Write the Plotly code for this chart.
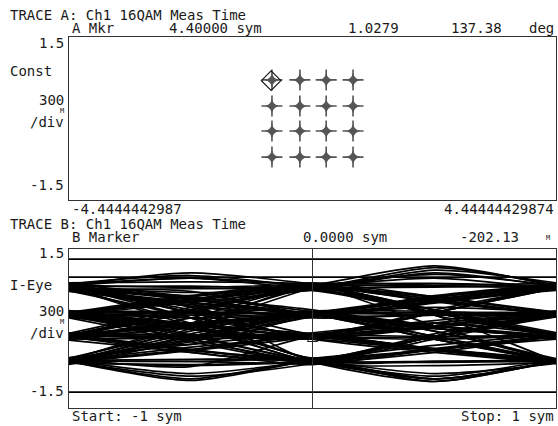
import plotly.graph_objects as go

# ---------------- data ----------------
# Trace A: 16QAM constellation (I, Q) symbol clusters
CONST_I = [-0.74, -0.23, 0.25, 0.74,
           -0.74, -0.23, 0.25, 0.74,
           -0.74, -0.23, 0.25, 0.74,
           -0.74, -0.23, 0.25, 0.74]
CONST_Q = [0.71, 0.71, 0.71, 0.71,
           0.23, 0.23, 0.23, 0.23,
           -0.23, -0.23, -0.23, -0.23,
           -0.71, -0.71, -0.71, -0.71]
MKR_A_I = [-0.755]
MKR_A_Q = [0.696]

# Trace B: I-eye trajectories sampled at these symbol times
EYE_T = [-1.0, -0.5, 0.0, 0.5, 1.0]
EYE_TRACES = [
    [0.80, 0.95, 0.78, 1.15, 0.82],
    [0.76, 0.55, 0.30, 0.55, 0.76],
    [0.82, 0.30, -0.15, 0.10, 0.28],
    [0.78, 0.10, -0.60, -0.20, 0.25],
    [0.74, 0.50, 0.25, 0.00, -0.16],
    [0.80, 0.62, 0.80, 0.35, -0.12],
    [0.77, 0.05, -0.64, -1.00, -0.60],
    [0.84, 1.00, 0.76, 0.25, -0.62],
    [0.26, 0.55, 0.79, 0.55, 0.26],
    [0.28, 0.10, -0.13, 0.30, 0.80],
    [0.24, -0.20, -0.62, -0.15, 0.28],
    [0.30, 0.28, 0.25, -0.20, -0.60],
    [0.27, 0.52, 0.78, 0.95, 0.74],
    [0.22, 0.05, -0.16, -0.40, -0.65],
    [0.31, 0.20, 0.28, 0.55, 0.82],
    [0.25, 0.60, 0.80, 0.25, -0.14],
    [-0.12, 0.35, 0.78, 0.50, 0.27],
    [-0.16, -0.15, -0.12, 0.30, 0.76],
    [-0.10, -0.40, -0.64, -0.45, -0.15],
    [-0.14, 0.08, 0.26, 0.05, -0.14],
    [-0.18, 0.10, 0.30, 0.60, 0.79],
    [-0.13, -0.42, -0.60, -0.95, -0.63],
    [-0.15, 0.30, 0.77, 0.05, -0.62],
    [-0.11, -0.20, -0.16, -0.40, -0.60],
    [-0.62, -0.95, -0.63, -1.00, -0.60],
    [-0.60, -0.35, -0.14, 0.05, 0.27],
    [-0.66, -0.15, 0.28, 0.55, 0.80],
    [-0.58, 0.05, 0.79, 0.30, -0.15],
    [-0.64, -0.40, -0.12, -0.40, -0.64],
    [-0.60, -0.10, 0.25, -0.20, -0.62],
    [-0.63, -0.70, -0.60, -0.15, 0.26],
    [-0.59, -0.20, 0.27, 0.25, 0.27],
    [0.79, 0.80, 0.75, 0.80, 0.78],
    [0.72, 0.42, 0.26, -0.20, -0.64],
    [0.83, 0.40, -0.12, -0.40, -0.62],
    [0.28, -0.12, -0.60, -0.40, -0.13],
    [0.23, 0.25, 0.29, 0.05, -0.17],
    [-0.16, -0.45, -0.61, -0.10, 0.30],
    [-0.12, 0.10, 0.25, 0.50, 0.77],
    [-0.64, -0.42, -0.15, 0.30, 0.78],
    [-0.61, -0.62, -0.65, -0.38, -0.12],
    [0.80, 0.55, 0.24, 0.25, 0.29],
    [0.27, 0.60, 0.82, 1.18, 0.80],
    [-0.62, -0.98, -0.60, -0.40, -0.15],
    [-0.14, 0.30, 0.80, 0.85, 0.78],
    [0.26, 0.20, -0.14, -0.20, -0.12],
    [0.78, 0.35, -0.16, 0.30, 0.76],
    [-0.60, -0.25, 0.24, 0.00, -0.15],
    [0.75, 0.70, 0.28, 0.62, 0.84],
    [0.29, 0.02, 0.26, -0.05, -0.62],
    [-0.17, -0.30, 0.24, 0.40, 0.30],
    [-0.57, -0.72, -0.14, 0.10, -0.13],
    [0.81, 0.48, -0.62, -0.70, -0.64],
    [-0.63, 0.00, 0.76, 1.02, 0.81],
    [0.84, 0.60, 0.32, 0.05, -0.18],
    [0.70, 0.45, 0.22, 0.48, 0.74],
    [0.86, 0.88, 0.84, 0.58, 0.30],
    [0.73, 0.75, 0.72, 0.30, -0.10],
    [0.33, 0.32, 0.30, 0.58, 0.85],
    [0.21, -0.02, -0.20, 0.02, 0.22],
    [0.34, 0.08, -0.10, -0.38, -0.58],
    [0.20, -0.25, -0.66, -0.62, -0.60],
    [0.30, 0.62, 0.86, 0.60, 0.31],
    [-0.08, -0.12, -0.10, 0.10, 0.33],
    [-0.20, -0.18, -0.20, -0.42, -0.66],
    [-0.09, 0.40, 0.84, 0.82, 0.85],
    [-0.22, -0.45, -0.68, -0.40, -0.20],
    [-0.66, -0.68, -0.66, -0.90, -0.58],
    [-0.55, -0.30, -0.08, 0.15, 0.33],
    [-0.68, -0.22, 0.22, 0.50, 0.74],
    [-0.56, -0.05, 0.30, 0.05, -0.20],
    [0.86, 0.30, -0.20, -0.45, -0.66],
    [0.71, 0.20, -0.56, -0.15, 0.22],
    [0.81, 1.05, 0.84, 0.55, 0.24],
    [0.24, 0.50, 0.73, 1.10, 0.86],
    [-0.10, -0.12, -0.20, 0.05, 0.31],
    [-0.62, -0.90, -0.66, -0.15, 0.29],
    [0.28, 0.05, -0.57, -0.85, -0.66],
    [0.77, 0.58, 0.35, -0.05, -0.57],
    [-0.14, 0.35, 0.72, 0.35, -0.08],
    [0.25, 0.28, 0.22, 0.52, 0.72],
    [-0.60, -0.58, -0.56, -0.32, -0.10],
    [0.79, 0.42, 0.20, 0.25, 0.23],
    [-0.17, 0.02, 0.33, 0.32, 0.24],
    [0.82, 0.78, 0.80, 0.52, 0.26],
    [0.75, 0.48, 0.29, 0.30, 0.31],
    [0.80, 0.20, -0.58, -0.62, -0.60],
    [0.78, 0.68, 0.75, 1.05, 0.79],
    [0.30, 0.55, 0.76, 0.78, 0.82],
    [0.27, 0.00, -0.17, -0.16, -0.15],
    [0.25, -0.15, -0.63, -0.95, -0.61],
    [0.32, 0.30, 0.26, 0.00, -0.14],
    [-0.15, -0.40, -0.62, -0.64, -0.62],
    [-0.12, 0.05, 0.28, 0.30, 0.29],
    [-0.18, 0.20, 0.79, 0.30, -0.14],
    [-0.13, -0.15, -0.14, -0.38, -0.61],
    [-0.61, -0.40, -0.14, -0.15, -0.13],
    [-0.63, -0.16, 0.27, 0.30, 0.26],
    [-0.59, 0.10, 0.78, 0.80, 0.77],
    [-0.62, -0.62, -0.60, -0.95, -0.61],
    [0.79, 0.30, -0.13, 0.35, 0.79],
    [0.27, -0.20, -0.60, -0.15, 0.27],
    [-0.14, 0.35, 0.78, 0.35, -0.14],
    [-0.61, -0.15, 0.27, -0.15, -0.61],
    [0.80, 0.55, 0.27, -0.15, -0.62],
    [-0.62, -0.15, 0.28, 0.55, 0.79],
    [0.28, 0.55, 0.79, 0.30, -0.14],
    [-0.14, -0.40, -0.61, -0.15, 0.27],
    [0.83, 0.95, 0.81, 0.60, 0.27],
    [0.26, 0.06, -0.15, 0.05, 0.26],
    [-0.15, 0.06, 0.26, 0.60, 0.80],
    [-0.60, -0.85, -0.62, -0.40, -0.14],
    [0.97, 0.97, 0.97, 0.97, 0.97],
    [1.31, 1.31, 1.31, 1.31, 1.31],
    [-1.20, -1.20, -1.20, -1.20, -1.20],
]
MKR_B_T = [0.0]
MKR_B_I = [-0.202]

# ---------------- figure ----------------
W, H = 558, 426
BOX_L, BOX_R = 69, 556
BOX_TOP, BOX_BOT = 37, 408
L, R, T, B = BOX_L, W - BOX_R, BOX_TOP, H - BOX_BOT
PW, PH = BOX_R - BOX_L, BOX_BOT - BOX_TOP

def px(x):
    return (x - BOX_L) / PW

def py(y):
    return (BOX_BOT - y) / PH

FONT = "DejaVu Sans Mono"
INK = "#1a1a1a"
BOX = "#333333"

fig = go.Figure()

# constellation
fig.add_trace(go.Scatter(x=CONST_I, y=CONST_Q, mode="markers", xaxis="x", yaxis="y",
                         marker=dict(symbol="cross-thin", size=15, line=dict(color="#555555", width=1.6)),
                         hoverinfo="skip"))
fig.add_trace(go.Scatter(x=CONST_I, y=CONST_Q, mode="markers", xaxis="x", yaxis="y",
                         marker=dict(symbol="star-diamond", size=10, color="#555555", line=dict(width=0)),
                         hoverinfo="skip"))
fig.add_trace(go.Scatter(x=MKR_A_I, y=MKR_A_Q, mode="markers", xaxis="x", yaxis="y",
                         marker=dict(symbol="diamond-open", size=15, color=INK, line=dict(color=INK, width=1.2)),
                         hoverinfo="skip"))

# eye diagram
for tr in EYE_TRACES:
    fig.add_trace(go.Scatter(x=EYE_T, y=tr, mode="lines", xaxis="x2", yaxis="y2",
                             line=dict(color="#000000", width=1.7, shape="spline", smoothing=0.7),
                             hoverinfo="skip"))
fig.add_trace(go.Scatter(x=MKR_B_T, y=MKR_B_I, mode="markers", xaxis="x2", yaxis="y2",
                         marker=dict(symbol="triangle-up-open", size=9, color=INK, line=dict(color="#777777", width=1)),
                         hoverinfo="skip"))

top_lo, top_hi = py(200), 1.0
bot_lo, bot_hi = 0.0, py(249)

axcommon = dict(showgrid=False, zeroline=False, showticklabels=False, ticks="",
                showline=True, linecolor=BOX, linewidth=1, mirror=True, fixedrange=True)

fig.update_layout(
    width=W, height=H,
    margin=dict(l=L, r=R, t=T, b=B, pad=0),
    paper_bgcolor="white", plot_bgcolor="white",
    showlegend=False,
    xaxis=dict(domain=[0, 1], range=[-4.4444442987, 4.44444429874], anchor="y", **axcommon),
    yaxis=dict(domain=[top_lo, top_hi], range=[-1.5, 1.5], anchor="x", **axcommon),
    xaxis2=dict(domain=[0, 1], range=[-1, 1], anchor="y2", **axcommon),
    yaxis2=dict(domain=[bot_lo, bot_hi], range=[-1.5, 1.5], anchor="x2", **axcommon),
    shapes=[dict(type="line", xref="x2", yref="paper", x0=0, x1=0, y0=bot_lo, y1=bot_hi,
                 line=dict(color=BOX, width=1))],
)

def txt(s, x, y, anchor="left", size=14):
    fig.add_annotation(text=s, x=px(x), y=py(y), xref="paper", yref="paper",
                       xanchor=anchor, yanchor="middle", showarrow=False,
                       font=dict(family=FONT, size=size, color=INK))

# Trace A header
txt("TRACE A: Ch1 16QAM Meas Time", 8, 15)
txt("A Mkr", 70, 28)
txt("4.40000 sym", 264, 28, "right")
txt("1.0279", 401, 28, "right")
txt("137.38", 504, 28, "right")
txt("deg", 556, 28, "right")
txt("1.5", 66, 43, "right")
txt("Const", 8, 71)
txt("300", 66, 100, "right")
txt("M", 66, 111, "right", 7)
txt("/div", 66, 122, "right")
txt("-1.5", 66, 185, "right")
txt("-4.4444442987", 70, 209)
txt("4.44444429874", 556, 209, "right")

# Trace B header
txt("TRACE B: Ch1 16QAM Meas Time", 8, 224)
txt("B Marker", 70, 237)
txt("0.0000 sym", 389, 237, "right")
txt("-202.13", 521, 237, "right")
txt("M", 552, 238, "right", 7)
txt("1.5", 66, 253, "right")
txt("I-Eye", 8, 285)
txt("300", 66, 311, "right")
txt("M", 66, 322, "right", 7)
txt("/div", 66, 333, "right")
txt("-1.5", 66, 391, "right")
txt("Start: -1 sym", 70, 416)
txt("Stop: 1 sym", 556, 416, "right")

fig.write_html("out.html", config={"displayModeBar": False, "staticPlot": True},
               post_script="document.body.style.margin='0';document.body.style.overflow='hidden';")
